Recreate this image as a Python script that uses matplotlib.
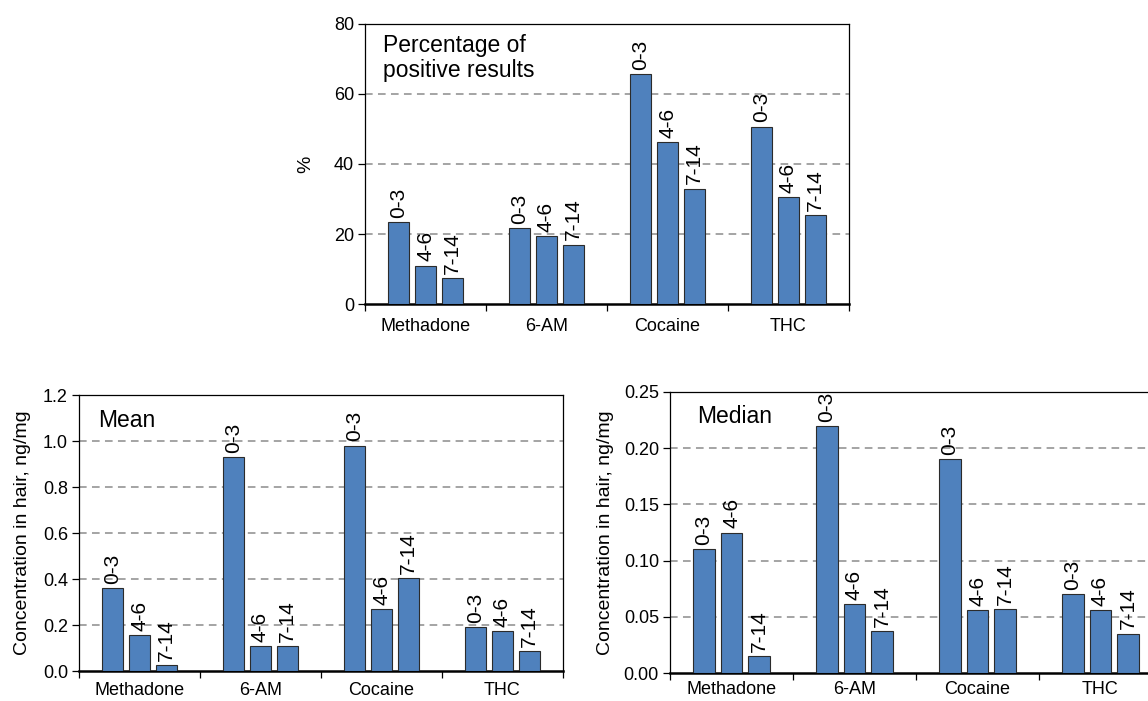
import numpy as np
import matplotlib
matplotlib.use("Agg")
import matplotlib.pyplot as plt

plt.rcParams['font.family'] = ['Liberation Sans', 'DejaVu Sans']

drugs = ["Methadone", "6-AM", "Cocaine", "THC"]
age_groups = ["0-3", "4-6", "7-14"]

# values per drug, one list per age group
pct_positive = {
    "0-3": [23.3, 21.7, 65.8, 50.7],
    "4-6": [11.0, 19.5, 46.3, 30.5],
    "7-14": [7.4, 17.0, 33.0, 25.5],
}
mean_conc = {
    "0-3": [0.36, 0.93, 0.98, 0.19],
    "4-6": [0.155, 0.108, 0.27, 0.175],
    "7-14": [0.025, 0.11, 0.405, 0.088],
}
median_conc = {
    "0-3": [0.110, 0.220, 0.190, 0.070],
    "4-6": [0.125, 0.061, 0.056, 0.056],
    "7-14": [0.015, 0.037, 0.057, 0.035],
}

BAR = "#4F81BD"
W, H = 1148, 701
fig = plt.figure(figsize=(W / 100, H / 100), dpi=100)


def panel(rect, data, ymax, step, fmt, ylabel, title, title_xy, xpad=10):
    ax = fig.add_axes(rect)
    x = np.arange(len(drugs))
    offsets = [-0.223, 0.0, 0.223]
    for off, grp in zip(offsets, age_groups):
        vals = data[grp]
        ax.bar(x + off, vals, width=0.176, color=BAR, edgecolor="#2b2b2b",
               linewidth=0.8, zorder=3)
        for xi, v in zip(x + off, vals):
            ax.annotate(grp, (xi, v), xytext=(0, 3), textcoords="offset points",
                        rotation=90, ha="center", va="bottom", fontsize=15)
    ax.set_xlim(-0.5, 3.5)
    ax.set_ylim(0, ymax)
    ticks = np.arange(0, ymax + step / 2, step)
    ax.set_yticks(ticks)
    ax.set_yticklabels([fmt.format(t) for t in ticks])
    for t in ticks[1:-1]:
        ax.axhline(t, color="#8c8c8c", lw=1.1, ls=(0, (5, 3.5)), zorder=1)
    ax.set_xticks(x)
    ax.set_xticklabels(drugs)
    ax.tick_params(axis="x", which="major", length=0, pad=xpad, labelsize=13)
    ax.set_xticks(np.arange(-0.5, 4, 1), minor=True)
    ax.tick_params(axis="x", which="minor", length=5, width=0.9, direction="out")
    ax.tick_params(axis="y", length=5, width=0.9, direction="out", pad=3,
                   labelsize=13)
    for s in ["top", "right", "left"]:
        ax.spines[s].set_linewidth(0.9)
    ax.spines["bottom"].set_linewidth(1.8)
    ax.set_ylabel(ylabel, fontsize=14)
    ax.text(title_xy[0], title_xy[1], title, transform=ax.transAxes,
            fontsize=16.5, ha="left", va="top", linespacing=1.15)
    return ax


ax1 = panel([365 / W, 1 - 304 / H, 484 / W, 280 / H], pct_positive, 80, 20,
            "{:.0f}", "%", "Percentage of\npositive results", (0.037, 0.965))
ax1.yaxis.set_label_coords(-0.105, 0.5)

ax2 = panel([79 / W, 1 - 671 / H, 484 / W, 276 / H], mean_conc, 1.2, 0.2,
            "{:.1f}", "Concentration in hair, ng/mg", "Mean", (0.04, 0.95),
            xpad=8)
ax2.yaxis.set_label_coords(-0.10, 0.5)

ax3 = panel([670 / W, 1 - 673 / H, 492 / W, 281 / H], median_conc, 0.25, 0.05,
            "{:.2f}", "Concentration in hair, ng/mg", "Median", (0.055, 0.955),
            xpad=6)
ax3.yaxis.set_label_coords(-0.113, 0.5)

fig.savefig("out.png", dpi=100)
